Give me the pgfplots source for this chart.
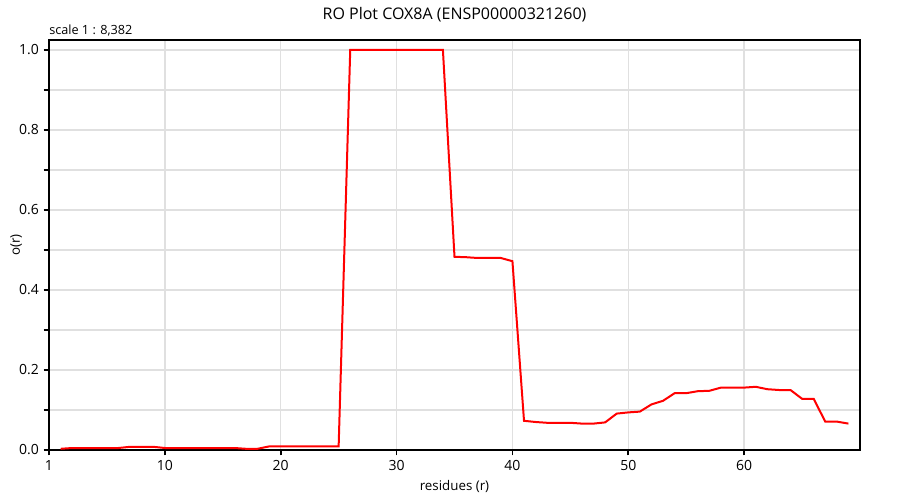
\documentclass[border=0pt]{standalone}
\usepackage{fontspec}
\setmainfont{Open Sans}
\usepackage{pgfplots}
\pgfplotsset{compat=1.18}
\begin{document}
\begin{tikzpicture}[x=0.75pt,y=0.75pt]
\useasboundingbox (0,0) rectangle (900,500);
\begin{axis}[
  at={(49pt*0.75,50pt*0.75)}, anchor=south west,
  scale only axis, width=811*0.75pt, height=410*0.75pt,
  xmin=0, xmax=70, ymin=0, ymax=1.025,
  xtick={0,10,20,30,40,50,60},
  xticklabels={1,10,20,30,40,50,60},
  ytick={0,0.1,0.2,0.3,0.4,0.5,0.6,0.7,0.8,0.9,1.0},
  yticklabels={0.0,,0.2,,0.4,,0.6,,0.8,,1.0},
  xtick pos=bottom, ytick pos=left,
  /pgf/number format/assume math mode=true,
  tick align=outside, major tick length=4pt,
  tick style={black, line width=1.3pt},
  axis line style={line width=1.5pt},
  grid=major, grid style={color=black!12, line width=1pt},
  tick label style={font=\fontsize{10.5}{12}\selectfont},
  xlabel={residues (r)}, ylabel={o(r)},
  label style={font=\fontsize{10}{12}\selectfont},
  xlabel style={yshift=-1pt},
  ylabel style={yshift=-9pt},
  every axis title/.append style={font=\fontsize{12}{14}\selectfont, yshift=4pt},
  title={RO Plot COX8A (ENSP00000321260)},
  clip=false,
]
\addplot[red, line width=1.5pt] coordinates {
(1,0.003)(2,0.005)(3,0.005)(4,0.005)(5,0.005)(6,0.005)(7,0.008)(8,0.008)(9,0.008)
(10,0.005)(11,0.005)(12,0.005)(13,0.005)(14,0.005)(15,0.005)(16,0.005)(17,0.003)(18,0.003)
(19,0.009)(20,0.009)(21,0.009)(22,0.009)(23,0.009)(24,0.009)(25,0.009)
(26,1.0)(27,1.0)(28,1.0)(29,1.0)(30,1.0)(31,1.0)(32,1.0)(33,1.0)(34,1.0)
(35,0.483)(36,0.482)(37,0.480)(38,0.480)(39,0.480)(40,0.472)
(41,0.073)(42,0.070)(43,0.068)(44,0.068)(45,0.068)(46,0.066)(47,0.066)(48,0.069)
(49,0.091)(50,0.094)(51,0.096)(52,0.114)(53,0.123)(54,0.142)(55,0.142)(56,0.147)
(57,0.148)(58,0.156)(59,0.156)(60,0.156)(61,0.158)(62,0.152)(63,0.150)(64,0.150)
(65,0.128)(66,0.128)(67,0.071)(68,0.071)(69,0.066)
};
\node[anchor=south west, inner sep=0pt, font=\fontsize{9.5}{11}\selectfont] at (rel axis cs:0,1) [yshift=3pt] {scale 1 : 8,382};
\end{axis}
\end{tikzpicture}
\end{document}
